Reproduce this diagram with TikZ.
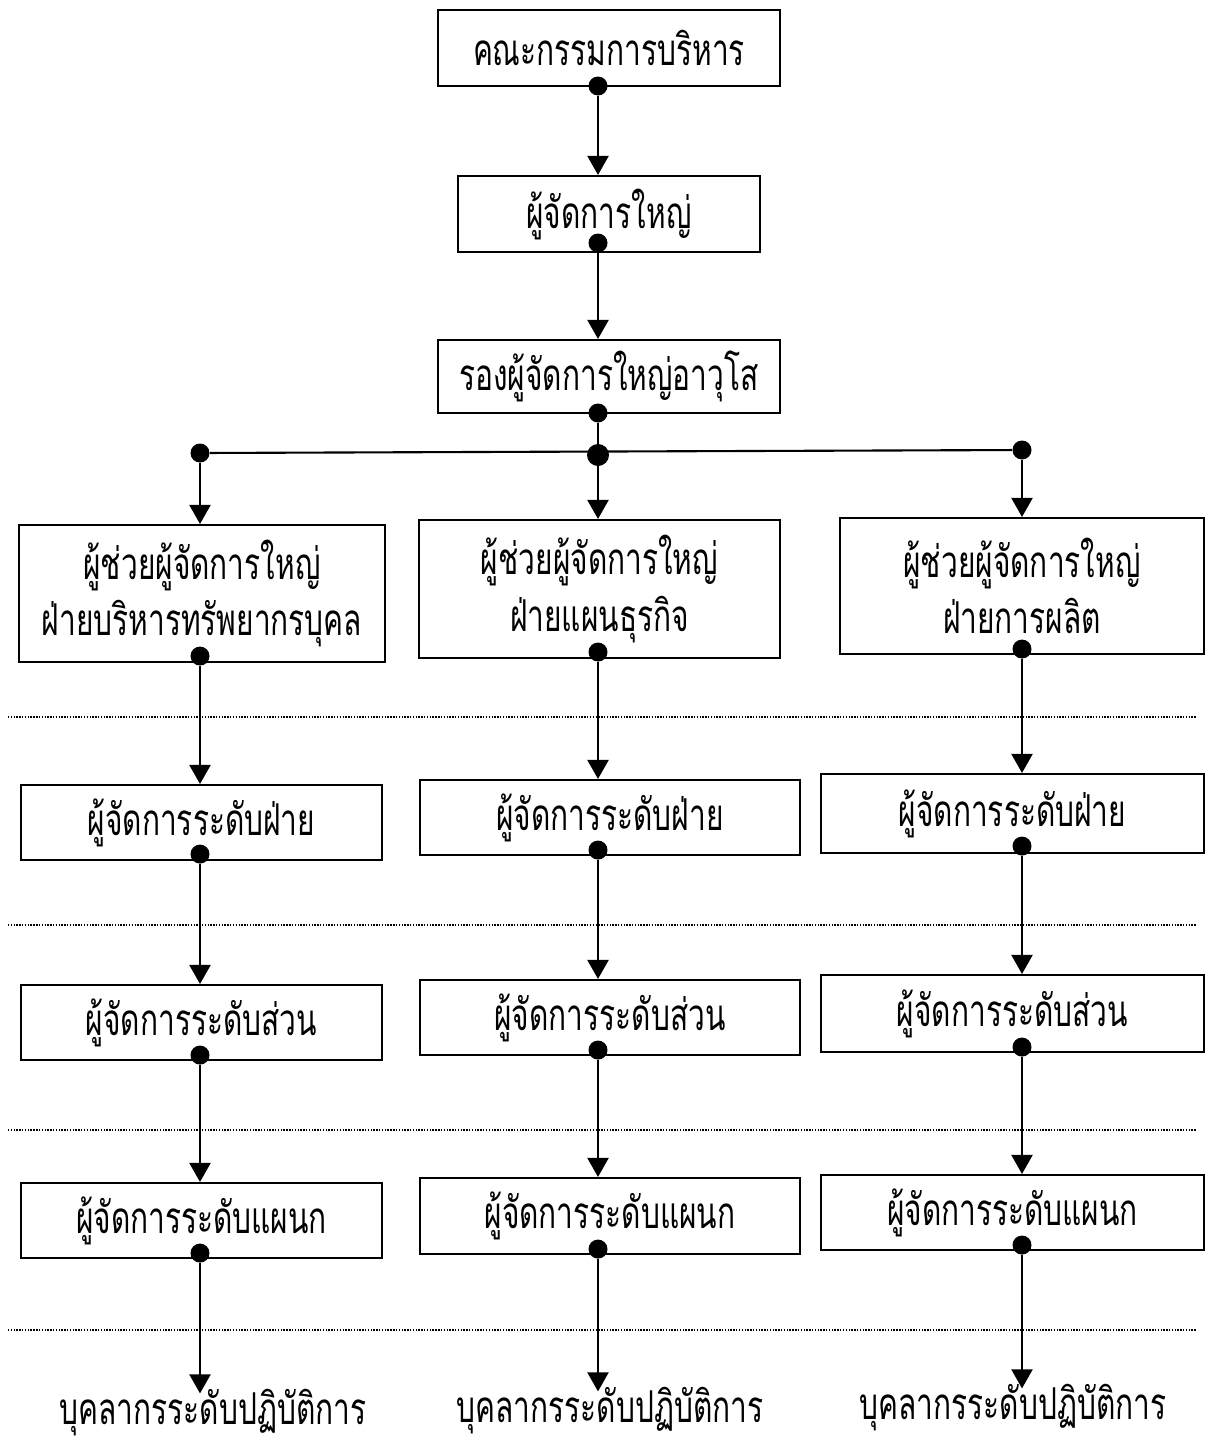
\documentclass[tikz,border=0pt]{standalone}
\usepackage{fontspec}
\newfontfamily\thaifont[Script=Thai,FakeStretch=0.68]{Loma}
\usetikzlibrary{arrows.meta}
\begin{document}
\begin{tikzpicture}[x=0.02cm,y=-0.02cm,
  box/.style={draw,line width=1.2pt,inner sep=0pt,font=\thaifont\fontsize{25}{35}\selectfont,align=center},
  lbl/.style={inner sep=0pt,anchor=base,font=\thaifont\fontsize{25}{35}\selectfont},
  conn/.style={line width=1.2pt},
  arr/.style={line width=1.2pt,-{Triangle[width=0.42cm,length=0.38cm]}},
  dotc/.style={fill=black,circle,inner sep=0pt,minimum size=0.38cm},
  sep/.style={line width=0.6pt,dash pattern=on 0.8pt off 0.8pt}]
\useasboundingbox (0,0) rectangle (1207,1444);
\coordinate (colL) at (200,0);
\coordinate (colM) at (598,0);
\coordinate (colR) at (1022,0);
% boxes
\node[box,minimum width=6.84cm,minimum height=1.52cm] (top) at (609,48) {คณะกรรมการบริหาร};
\node[box,minimum width=6.04cm,minimum height=1.52cm] (gm) at (609,214) {ผู้จัดการใหญ่};
\node[box,minimum width=6.84cm,minimum height=1.46cm] (vp) at (609,376.5) {รองผู้จัดการใหญ่อาวุโส};
\node[box,minimum width=7.32cm,minimum height=2.74cm] (aL) at (202,593.5) {ผู้ช่วยผู้จัดการใหญ่\\[-3pt]ฝ่ายบริหารทรัพยากรบุคล};
\node[box,minimum width=7.22cm,minimum height=2.76cm] (aM) at (599.5,589) {ผู้ช่วยผู้จัดการใหญ่\\[-3pt]ฝ่ายแผนธุรกิจ};
\node[box,minimum width=7.28cm,minimum height=2.72cm] (aR) at (1022,586) {ผู้ช่วยผู้จัดการใหญ่\\[-3pt]ฝ่ายการผลิต};
\node[box,minimum width=7.22cm,minimum height=1.5cm] (dL) at (201.5,822.5) {ผู้จัดการระดับฝ่าย};
\node[box,minimum width=7.6cm,minimum height=1.5cm] (dM) at (610,817.5) {ผู้จัดการระดับฝ่าย};
\node[box,minimum width=7.66cm,minimum height=1.58cm] (dR) at (1012.5,813.5) {ผู้จัดการระดับฝ่าย};
\node[box,minimum width=7.22cm,minimum height=1.5cm] (sL) at (201.5,1022.5) {ผู้จัดการระดับส่วน};
\node[box,minimum width=7.6cm,minimum height=1.5cm] (sM) at (610,1017.5) {ผู้จัดการระดับส่วน};
\node[box,minimum width=7.66cm,minimum height=1.54cm] (sR) at (1012.5,1013.5) {ผู้จัดการระดับส่วน};
\node[box,minimum width=7.22cm,minimum height=1.5cm] (kL) at (201.5,1220.5) {ผู้จัดการระดับแผนก};
\node[box,minimum width=7.6cm,minimum height=1.52cm] (kM) at (610,1216) {ผู้จัดการระดับแผนก};
\node[box,minimum width=7.66cm,minimum height=1.5cm] (kR) at (1012.5,1212.5) {ผู้จัดการระดับแผนก};
\node[lbl] (pL) at (213,1424) {บุคลากรระดับปฏิบัติการ};
\node[lbl] (pM) at (610,1422) {บุคลากรระดับปฏิบัติการ};
\node[lbl] (pR) at (1013,1419) {บุคลากรระดับปฏิบัติการ};
% separators
\foreach \yy in {717,925,1130,1330} \draw[sep] (8,\yy) -- (1197,\yy);
% dots
\node[dotc] (d0) at (598,86) {};
\node[dotc] (d1) at (598,243) {};
\node[dotc] (d2) at (598,413) {};
\node[dotc,minimum height=0.44cm] (jM) at (598,455) {};
\node[dotc] (jL) at (200,453) {};
\node[dotc] (jR) at (1022,450) {};
\foreach \b/\c/\o in {aL/colL/7,aM/colM/7,aR/colR/6,dL/colL/7,dM/colM/6,dR/colR/8,sL/colL/6,sM/colM/6,sR/colR/6,kL/colL/6,kM/colM/6,kR/colR/6}
  \node[dotc] (dot\b) at ([yshift=\o*0.02cm]\b.south -| \c) {};
% connectors
\draw[arr] (d0) -- (gm.north -| colM);
\draw[arr] (d1) -- (vp.north -| colM);
\draw[conn] (d2) -- (jM);
\draw[conn] (jL) -- (jR);
\draw[arr] (jL) -- (aL.north -| colL);
\draw[arr] (jM) -- (aM.north -| colM);
\draw[arr] (jR) -- (aR.north -| colR);
\draw[arr] (dotaL) -- (dL.north -| colL);
\draw[arr] (dotaM) -- (dM.north -| colM);
\draw[arr] (dotaR) -- (dR.north -| colR);
\draw[arr] (dotdL) -- (sL.north -| colL);
\draw[arr] (dotdM) -- (sM.north -| colM);
\draw[arr] (dotdR) -- (sR.north -| colR);
\draw[arr] (dotsL) -- (kL.north -| colL);
\draw[arr] (dotsM) -- (kM.north -| colM);
\draw[arr] (dotsR) -- (kR.north -| colR);
\draw[arr] (dotkL) -- ([yshift=-0.1cm]pL.north -| colL);
\draw[arr] (dotkM) -- ([yshift=-0.1cm]pM.north -| colM);
\draw[arr] (dotkR) -- ([yshift=-0.1cm]pR.north -| colR);
\end{tikzpicture}
\end{document}
